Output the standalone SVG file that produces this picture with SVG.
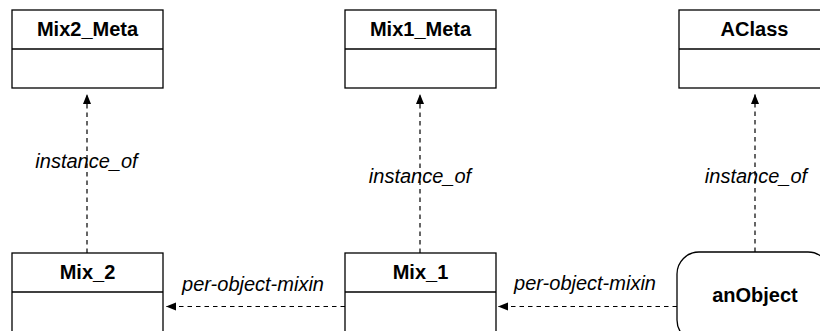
<svg xmlns="http://www.w3.org/2000/svg" width="820" height="331" viewBox="0 0 820 331">
<style>
.box{fill:#fff;stroke:#000;stroke-width:1.3}
.title{font-family:"Liberation Sans",Arial,sans-serif;font-size:20px;font-weight:bold;text-anchor:middle;fill:#000}
.lbl{font-family:"Liberation Sans",Arial,sans-serif;font-size:20px;font-style:italic;text-anchor:middle;fill:#000}
.dash{fill:none;stroke:#000;stroke-width:1.2;stroke-dasharray:4.5,4}
</style>
<defs>
<marker id="ah" viewBox="0 0 10 10" refX="10" refY="5" markerWidth="10" markerHeight="10" markerUnits="userSpaceOnUse" orient="auto">
<path d="M0,1 L10,5 L0,9 Z" fill="#000"/>
</marker>
</defs>
<rect width="820" height="331" fill="#fff"/>
<g id="Mix2_Meta">
<rect class="box" x="12" y="10" width="151" height="78"/>
<line class="box" x1="12" y1="49" x2="163" y2="49"/>
<text class="title" x="87.5" y="36">Mix2_Meta</text>
</g>
<g id="Mix1_Meta">
<rect class="box" x="345" y="10" width="151" height="78"/>
<line class="box" x1="345" y1="49" x2="496" y2="49"/>
<text class="title" x="420.5" y="36">Mix1_Meta</text>
</g>
<g id="AClass">
<rect class="box" x="679" y="10" width="151" height="78"/>
<line class="box" x1="679" y1="49" x2="830" y2="49"/>
<text class="title" x="754.5" y="36">AClass</text>
</g>
<g id="Mix_2">
<rect class="box" x="12" y="253" width="151" height="90"/>
<line class="box" x1="12" y1="292" x2="163" y2="292"/>
<text class="title" x="87.5" y="279">Mix_2</text>
</g>
<g id="Mix_1">
<rect class="box" x="345" y="253" width="151" height="90"/>
<line class="box" x1="345" y1="292" x2="496" y2="292"/>
<text class="title" x="420.5" y="279">Mix_1</text>
</g>
<g id="anObject">
<rect class="box" x="677" y="252" width="153" height="90" rx="22" ry="22"/>
<text class="title" x="755" y="302">anObject</text>
</g>
<g id="connectors">
<line class="dash" x1="87" y1="253" x2="87" y2="94" marker-end="url(#ah)"/>
<text class="lbl" x="86.5" y="168">instance_of</text>
<line class="dash" x1="420" y1="253" x2="420" y2="94" marker-end="url(#ah)"/>
<text class="lbl" x="420" y="183">instance_of</text>
<line class="dash" x1="755" y1="252" x2="755" y2="94" marker-end="url(#ah)"/>
<text class="lbl" x="756" y="183">instance_of</text>
<line class="dash" x1="345" y1="306.5" x2="166" y2="306.5" marker-end="url(#ah)"/>
<text class="lbl" x="253" y="291">per-object-mixin</text>
<line class="dash" x1="677" y1="306.5" x2="498" y2="306.5" marker-end="url(#ah)"/>
<text class="lbl" x="585" y="290">per-object-mixin</text>
</g>
</svg>
